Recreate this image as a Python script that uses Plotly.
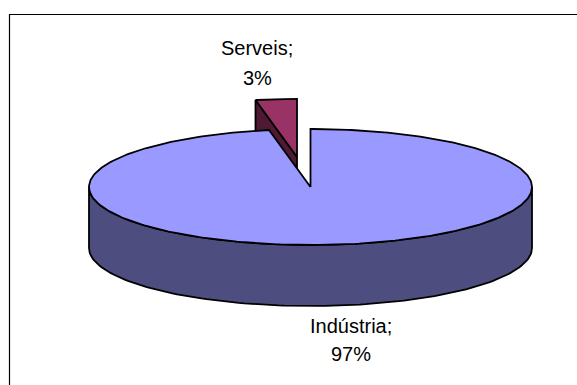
import numpy as np
import plotly.graph_objects as go

categories = ["Indústria", "Serveis"]
shares = [97, 3]

W, H = 577, 385
CX, CY, RX, RY, DEPTH = 310.5, 187.0, 221.5, 58.0, 61.0
EXPLODE = (-13.5, -30.0)
INK = dict(color="#000000", width=1.8)
TOP_A, WALL_A = "#9999FF", "#4D4D80"
TOP_B, WALL_B = "#993366", "#4D1933"


def arc(start, end, dx=0.0, dy=0.0, n=120):
    t = np.radians(np.linspace(start, end, n))
    return CX + dx + RX * np.sin(t), CY + dy - RY * np.cos(t)


def poly(x, y, fill):
    return go.Scatter(x=list(x), y=list(y), mode="lines", fill="toself", fillcolor=fill,
                      line=INK, hoverinfo="skip", showlegend=False)


sweep_a = 360 * shares[0] / sum(shares)
dx, dy = EXPLODE

# exploded slice: cut-face wall, then its top
x0, y0 = arc(sweep_a, 360, dx, dy)
wall_bx = [x0[0], CX + dx, CX + dx, x0[0], x0[0]]
wall_by = [y0[0], CY + dy, CY + dy + DEPTH, y0[0] + DEPTH, y0[0]]
top_bx = np.r_[CX + dx, x0, CX + dx]
top_by = np.r_[CY + dy, y0, CY + dy]

# main slice: front wall, then its top
xu, yu = arc(90, 270)
wall_ax = np.r_[xu, xu[::-1], xu[0]]
wall_ay = np.r_[yu, yu[::-1] + DEPTH, yu[0]]
x1, y1 = arc(0, sweep_a, n=360)
top_ax = np.r_[CX, x1, CX]
top_ay = np.r_[CY, y1, CY]

fig = go.Figure([
    poly(wall_bx, wall_by, WALL_B),
    poly(top_bx, top_by, TOP_B),
    poly(wall_ax, wall_ay, WALL_A),
    poly(top_ax, top_ay, TOP_A),
])

font = dict(family="Liberation Sans, Arial, sans-serif", size=20, color="#000000")
label_pos = {"Indústria": (351, 326, 354), "Serveis": (257, 48, 78)}
for name, share in zip(categories, shares):
    lx, ly1, ly2 = label_pos[name]
    for text, ly in ((f"{name};", ly1), (f"{share}%", ly2)):
        fig.add_annotation(x=lx, y=ly, text=text, showarrow=False, font=font,
                           xanchor="center", yanchor="middle")

fig.add_shape(type="rect", x0=9.5, y0=14.5, x1=W + 20, y1=H + 20,
              line=dict(color="#000000", width=1.2), fillcolor="rgba(0,0,0,0)")

fig.update_layout(
    width=W, height=H, autosize=False, margin=dict(l=0, r=0, t=0, b=0),
    paper_bgcolor="#FFFFFF", plot_bgcolor="#FFFFFF", showlegend=False,
    xaxis=dict(range=[0, W], visible=False, fixedrange=True),
    yaxis=dict(range=[H, 0], visible=False, fixedrange=True),
)
fig.write_html("out.html", config=dict(displayModeBar=False),
               post_script="document.body.style.margin='0';")
